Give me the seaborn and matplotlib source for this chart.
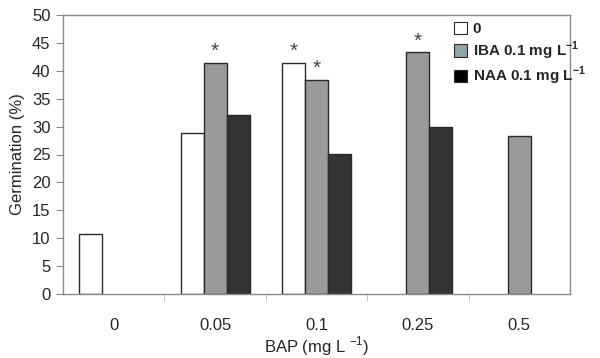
import numpy as np
import pandas as pd
import matplotlib
matplotlib.use("Agg")
import matplotlib.pyplot as plt
import seaborn as sns
from matplotlib.patches import Patch

# ---- data ----
categories = ["0", "0.05", "0.1", "0.25", "0.5"]
treatments = ["0", "IBA", "NAA"]
vals_control = [10.7, 28.8, 41.4, np.nan, np.nan]
vals_iba = [np.nan, 41.4, 38.4, 43.3, 28.4]
vals_naa = [np.nan, 32.1, 25.1, 30.0, np.nan]
# asterisks: (treatment, category)
stars = [("IBA", "0.05"), ("0", "0.1"), ("IBA", "0.1"), ("IBA", "0.25")]
legend_labels = ["0", "IBA 0.1 mg L$^{\\mathbf{-1}}$", "NAA 0.1 mg L$^{\\mathbf{-1}}$"]

df = pd.DataFrame({
    "BAP": categories * 3,
    "trt": [t for t in treatments for _ in categories],
    "germ": vals_control + vals_iba + vals_naa,
})

sns.set_theme(style="white")
plt.rcParams["font.family"] = ["Liberation Sans", "DejaVu Sans"]
plt.rcParams["mathtext.fontset"] = "custom"
plt.rcParams["mathtext.rm"] = "Liberation Sans"
plt.rcParams["mathtext.bf"] = "Liberation Sans:bold"

bar_colors = ["#ffffff", "#9a9a9a", "#333333"]
legend_colors = ["#ffffff", "#8fa3a8", "#000000"]

fig = plt.figure(figsize=(6.0, 3.58), dpi=100)
ax = fig.add_axes([63 / 600, 1 - 294 / 358, 507 / 600, 279 / 358])

sns.barplot(data=df, x="BAP", y="germ", hue="trt", order=categories,
            hue_order=treatments, palette=bar_colors, width=0.68,
            edgecolor="#2a2a2a", linewidth=1.0, saturation=1, ax=ax,
            legend=False, errorbar=None)

ax.set_ylim(0, 50)
ax.set_xlim(-0.5, 4.5)
ax.set_yticks(range(0, 51, 5))
ax.tick_params(axis="y", direction="out", length=5, width=0.8, color="#888888",
               labelsize=12, pad=4, left=True)
ax.tick_params(axis="x", which="major", length=0, labelsize=12, pad=17)
ax.set_xticks([0.5, 1.5, 2.5, 3.5], minor=True)
ax.tick_params(axis="x", which="minor", direction="out", length=5, width=0.6,
               color="#bbbbbb", bottom=True)
for s in ax.spines.values():
    s.set_color("#8a8a8a")
    s.set_linewidth(1.0)

ax.set_xlabel("BAP (mg L $^{-1}$)", fontsize=12, labelpad=1)
ax.set_ylabel("Germination (%)", fontsize=12, labelpad=5)

# asterisks: find the drawn bar for each (treatment, category)
for t, c in stars:
    ci = categories.index(c)
    for bar in ax.containers[treatments.index(t)]:
        if round(bar.get_x() + bar.get_width() / 2) == ci:
            ax.text(bar.get_x() + bar.get_width() / 2, bar.get_height() + 0.3, "*",
                    ha="center", va="bottom", fontsize=15, color="#444444")

handles = [Patch(facecolor=fc, edgecolor="#2a2a2a", linewidth=0.8) for fc in legend_colors]
leg = ax.legend(handles, legend_labels, loc="upper left", bbox_to_anchor=(0.772, 0.975),
                frameon=False, handlelength=0.85, handleheight=0.85, handletextpad=0.35,
                labelspacing=0.2, borderaxespad=0, borderpad=0,
                prop={"weight": "bold", "size": 11})

fig.savefig("out.png", dpi=100)
